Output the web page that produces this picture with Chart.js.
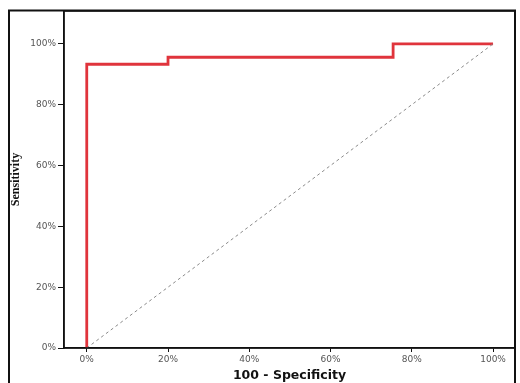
<!DOCTYPE html>
<html>
<head>
<meta charset="utf-8">
<script src="https://cdn.jsdelivr.net/npm/chart.js@4/dist/chart.umd.min.js"></script>
<style>
  html, body { margin: 0; padding: 0; background: #fff; }
  #wrap { width: 520px; height: 383px; }
</style>
</head>
<body>
<div id="wrap"><canvas id="roc"></canvas></div>
<script>
// Curva ROC
const rocX = [0, 0, 20, 20, 75.4, 75.4, 100];
const rocY = [0, 93.3, 93.3, 95.6, 95.6, 100, 100];
// Linea de referencia
const refX = [0, 100];
const refY = [0, 100];
// Ticks de ambos ejes
const tickVals = [0, 20, 40, 60, 80, 100];

const toPoints = (xs, ys) => xs.map((x, i) => ({ x: x, y: ys[i] }));

// Marco exterior y marco del area de trazado
const marcos = {
  id: "marcos",
  afterDraw(chart) {
    const ctx = chart.ctx;
    const a = chart.chartArea;
    ctx.save();
    ctx.strokeStyle = "#111";
    ctx.lineWidth = 2;
    ctx.strokeRect(9, 10.5, a.right - 9, 400);
    ctx.lineWidth = 1.5;
    ctx.strokeRect(a.left, a.top, a.right - a.left, a.bottom - a.top);
    ctx.restore();
  }
};

new Chart(document.getElementById("roc"), {
  type: "scatter",
  data: {
    datasets: [
      {
        data: toPoints(refX, refY),
        showLine: true,
        borderColor: "#8a8a8a",
        borderWidth: 1,
        borderDash: [3, 3],
        pointRadius: 0
      },
      {
        data: toPoints(rocX, rocY),
        showLine: true,
        borderColor: "#e0343c",
        borderWidth: 2.8,
        pointRadius: 0
      }
    ]
  },
  options: {
    responsive: true,
    maintainAspectRatio: false,
    animation: false,
    layout: { padding: { left: 0, right: 5, top: 11, bottom: 0 } },
    plugins: { legend: { display: false }, tooltip: { enabled: false } },
    scales: {
      x: {
        type: "linear",
        min: -5.6,
        max: 105.4,
        afterBuildTicks: s => { s.ticks = tickVals.map(v => ({ value: v })); },
        afterFit: s => { s.height = 35; },
        border: { color: "#111", width: 1.5 },
        grid: { drawOnChartArea: false, tickLength: 4, tickColor: "#111" },
        ticks: {
          callback: v => v + "%",
          color: "#555",
          font: { family: "DejaVu Sans", size: 9 },
          padding: 2,
          maxRotation: 0
        },
        title: {
          display: true,
          text: "100 - Specificity",
          color: "#111",
          font: { family: "DejaVu Sans", size: 12.5, weight: "bold" },
          padding: { top: 0, bottom: 0 }
        }
      },
      y: {
        type: "linear",
        min: 0,
        max: 110.8,
        afterBuildTicks: s => { s.ticks = tickVals.map(v => ({ value: v })); },
        afterFit: s => { s.width = 64; },
        border: { color: "#111", width: 1.5 },
        grid: { drawOnChartArea: false, tickLength: 6, tickColor: "#111" },
        ticks: {
          callback: v => v + "%",
          color: "#555",
          font: { family: "DejaVu Sans", size: 9 },
          padding: 2
        },
        title: {
          display: true,
          text: "Sensitivity",
          color: "#111",
          font: { family: "Liberation Serif", size: 12, weight: "bold" },
          padding: { top: 9, bottom: 0 }
        }
      }
    }
  },
  plugins: [marcos]
});
</script>
</body>
</html>
